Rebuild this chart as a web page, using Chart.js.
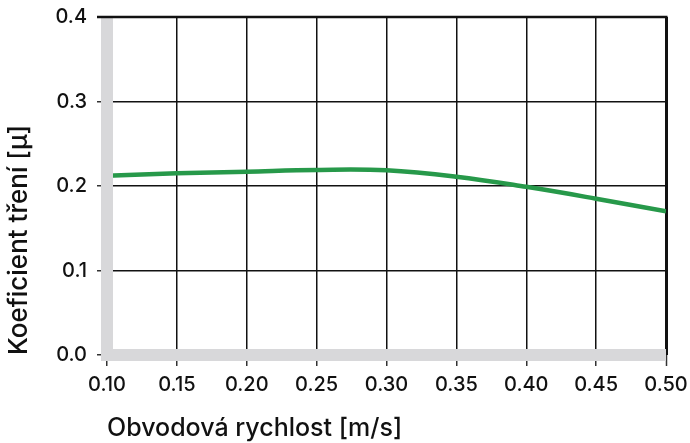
<!DOCTYPE html>
<html>
<head>
<meta charset="utf-8">
<script src="https://cdn.jsdelivr.net/npm/chart.js@4"></script>
<style>
    html, body { margin:0; padding:0; background:#fff; }
    #wrap { width:690px; height:443px; }
</style>
</head>
<body>
<div id="wrap"><canvas id="frictionChart" width="690" height="443"></canvas></div>
<script>

const speeds = [0.10, 0.15, 0.20, 0.25, 0.30, 0.35, 0.40, 0.45, 0.50];
const friction = [0.212, 0.215, 0.217, 0.219, 0.2185, 0.211, 0.199, 0.185, 0.170];
const yTicks = [0.0, 0.1, 0.2, 0.3, 0.4];

const FONT = "Inter, 'Liberation Sans', Arial, sans-serif";
const GRAY = "#d8d8da";

// gray thick axes drawn on top of line start, then top edge again
const frame = {
    id:"frame",
    afterDatasetsDraw(chart){
        const {ctx, chartArea:a, scales:{x, y}} = chart;
        const x0 = x.getPixelForValue(speeds[0]);
        const y0 = y.getPixelForValue(0);
        ctx.save();
        ctx.fillStyle = GRAY;
        ctx.fillRect(x0-6, a.top, 12, y0+6-a.top);
        ctx.fillRect(x0-6, y0-6, a.right-(x0-6), 12);
        ctx.strokeStyle = "#111";
        ctx.lineWidth = 2.5;
        ctx.beginPath();
        const yt = y.getPixelForValue(0.4);
        ctx.moveTo(x0-10, yt);
        ctx.lineTo(a.right+1.5, yt);
        ctx.stroke();
        ctx.restore();
    }
};

new Chart(document.getElementById("frictionChart").getContext("2d"),{
    type:"line",
    data:{
        datasets:[{
            data:speeds.map((s,i)=>({x:s, y:friction[i]})),
            borderColor:"#27994a",
            borderWidth:4.5,
            pointRadius:0,
            tension:0.4,
            fill:false
        }]
    },
    options:{
        responsive:false,
        animation:false,
        layout:{padding:{top:17, right:24, left:0, bottom:0}},
        plugins:{legend:{display:false}, tooltip:{enabled:false}},
        scales:{
            x:{
                type:"linear",
                min:0.1,
                max:0.5,
                afterBuildTicks:s=>{ s.ticks = speeds.map(v=>({value:v})); },
                afterFit:s=>{ s.height = 88; s.paddingRight = 0; s.paddingLeft = 0; },
                grid:{
                    color:c=>c.tick && c.tick.value===0.1 ? "rgba(0,0,0,0)" : "#111",
                    lineWidth:c=>c.tick && c.tick.value===0.5 ? 3 : 1.5,
                    tickColor:"#333",
                    tickLength:11,
                    tickWidth:1.5
                },
                border:{display:false},
                ticks:{
                    padding:7,
                    color:"#111",
                    font:{family:FONT, size:20, weight:500},
                    maxRotation:0,
                    callback:v=>v.toFixed(2)
                },
                title:{
                    display:true,
                    text:"Obvodová rychlost [m/s]",
                    align:"start",
                    color:"#111",
                    font:{family:FONT, size:25, weight:500},
                    padding:{top:0, bottom:0}
                }
            },
            y:{
                min:0,
                max:0.4,
                afterBuildTicks:s=>{ s.ticks = yTicks.map(v=>({value:v})); },
                afterFit:s=>{ s.width = 107; s.paddingTop = 0; s.paddingBottom = 0; },
                grid:{
                    color:c=>c.tick && c.tick.value===0 ? "rgba(0,0,0,0)" : "#111",
                    lineWidth:1.5,
                    tickColor:"#333",
                    tickLength:10,
                    tickWidth:1.5
                },
                border:{display:false},
                ticks:{
                    padding:10,
                    color:"#111",
                    font:{family:FONT, size:20, weight:500},
                    callback:v=>v.toFixed(1)
                },
                title:{
                    display:true,
                    text:"Koeficient tření [μ]",
                    align:"start",
                    color:"#111",
                    font:{family:FONT, size:26, weight:500},
                    padding:{top:4, bottom:4}
                }
            }
        }
    },
    plugins:[frame]
});
</script>
</body>
</html>
